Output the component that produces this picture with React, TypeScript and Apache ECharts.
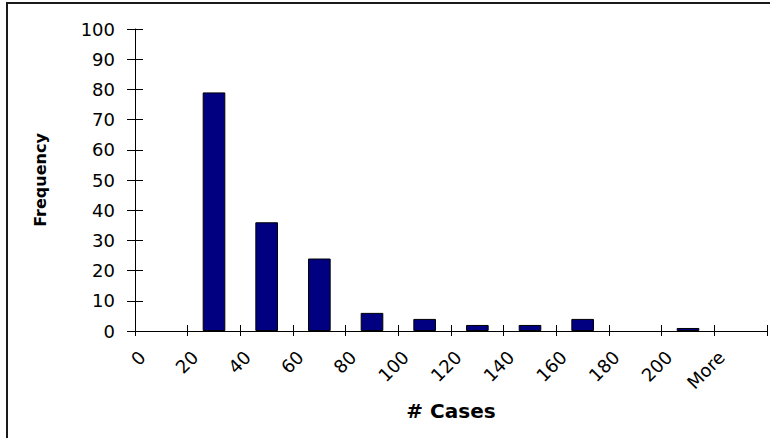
import React, { useEffect, useRef } from "react";
import * as echarts from "echarts";

// Histogram bins (upper bin edges) and the number of observations in each
const binLabels = ["0", "20", "40", "60", "80", "100", "120", "140", "160", "180", "200", "More"];
const frequency = [0, 79, 36, 24, 6, 4, 2, 2, 4, 0, 1, 0];

const yMin = 0;
const yMax = 100;
const yStep = 10;

const labelFont = "'DejaVu Sans', Verdana, sans-serif";

export default function App() {
  const ref = useRef<HTMLDivElement>(null);

  useEffect(() => {
    if (!ref.current) return;
    const chart = echarts.init(ref.current, undefined, { renderer: "svg" });

    const axisLine = { show: true, lineStyle: { color: "#000", width: 1 } };

    // empty bins get no outline, so nothing is drawn for them
    const barData = frequency.map((v) => ({
      value: v,
      itemStyle: { borderWidth: v > 0 ? 1 : 0 },
    }));

    chart.setOption({
      animation: false,
      backgroundColor: "#fff",
      grid: { left: 135, right: 3, top: 29, bottom: 107, containLabel: false },
      xAxis: [
        {
          type: "category",
          data: binLabels,
          position: "bottom",
          boundaryGap: true,
          axisLine,
          axisTick: { show: true, alignWithLabel: false, length: 5, lineStyle: { color: "#000" } },
          axisLabel: {
            interval: 0,
            rotate: 45,
            margin: 4,
            padding: [0, 27, 0, 0],
            color: "#000",
            fontFamily: labelFont,
            fontSize: 18,
          },
          name: "# Cases",
          nameLocation: "middle",
          nameGap: 70,
          nameTextStyle: { color: "#000", fontFamily: labelFont, fontWeight: "bold", fontSize: 20 },
          splitLine: { show: false },
        },
        {
          // second pass of the same axis: ticks on the inner side so they cross the line
          type: "category",
          data: binLabels,
          position: "bottom",
          boundaryGap: true,
          axisLine: { show: false },
          axisTick: { show: true, inside: true, alignWithLabel: false, length: 6, lineStyle: { color: "#000" } },
          axisLabel: { show: false },
          splitLine: { show: false },
        },
      ],
      yAxis: [
        {
          type: "value",
          min: yMin,
          max: yMax,
          interval: yStep,
          position: "left",
          axisLine,
          axisTick: { show: true, length: 8, lineStyle: { color: "#000" } },
          axisLabel: { margin: 20, color: "#000", fontFamily: labelFont, fontSize: 18 },
          splitLine: { show: false },
          name: "Frequency",
          nameLocation: "middle",
          nameGap: 87,
          nameTextStyle: { color: "#000", fontFamily: labelFont, fontWeight: "bold", fontSize: 16 },
        },
        {
          type: "value",
          min: yMin,
          max: yMax,
          interval: yStep,
          position: "left",
          axisLine: { show: false },
          axisTick: { show: true, inside: true, length: 8, lineStyle: { color: "#000" } },
          axisLabel: { show: false },
          splitLine: { show: false },
        },
      ],
      series: [
        {
          type: "bar",
          xAxisIndex: 0,
          yAxisIndex: 0,
          data: barData,
          barWidth: "43%",
          itemStyle: { color: "#000080", borderColor: "#000", borderWidth: 1 },
        },
      ],
      graphic: [
        {
          type: "rect",
          shape: { x: 7, y: 3, width: 820, height: 500 },
          style: { fill: "none", stroke: "#1a1a1a", lineWidth: 2 },
          silent: true,
          z: 100,
        },
      ],
    });

    return () => chart.dispose();
  }, []);

  return (
    <div
      ref={ref}
      style={{ position: "fixed", left: 0, top: 0, width: 770, height: 438 }}
    />
  );
}
